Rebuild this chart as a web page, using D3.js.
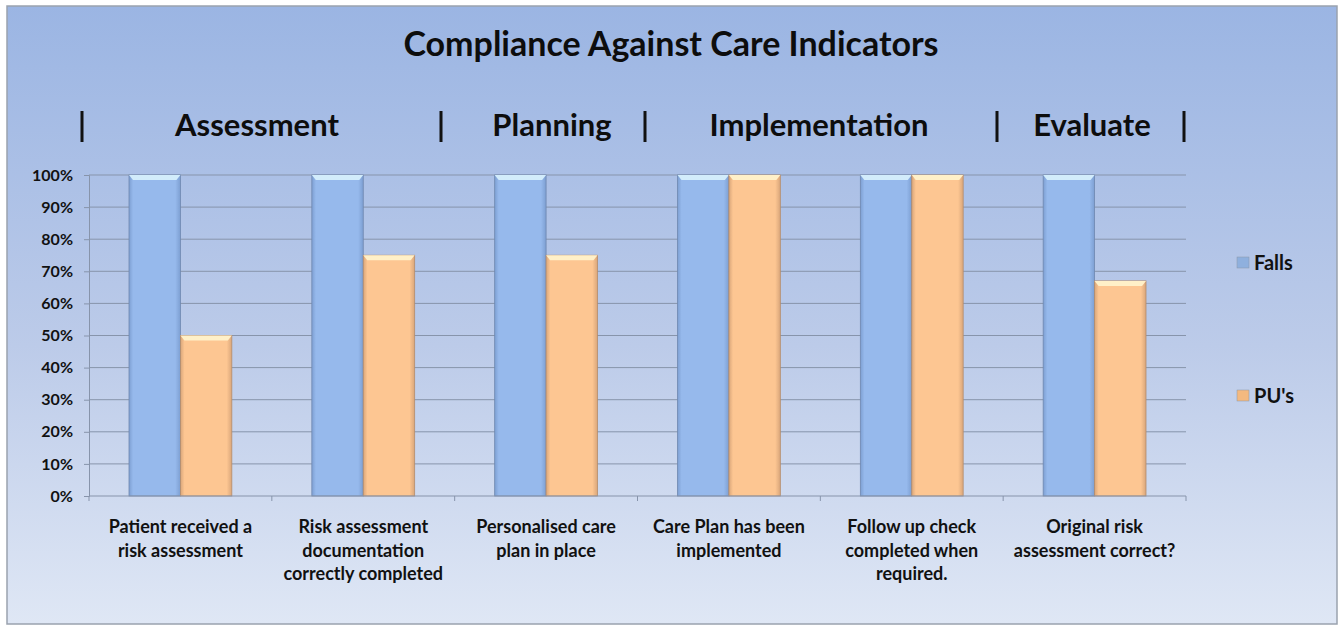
<!DOCTYPE html>
<html>
<head>
<meta charset="utf-8">
<script src="https://cdn.jsdelivr.net/npm/d3@7"></script>
<style>
  body { margin: 0; background: #fff; }
  svg { display: block; font-family: Lato, "Open Sans", sans-serif; }
</style>
</head>
<body>
<div id="chart"></div>
<script>
let W = 1340, H = 628;

// data
let categories = [
  ["Patient received a", "risk assessment"],
  ["Risk assessment", "documentation", "correctly completed"],
  ["Personalised care", "plan in place"],
  ["Care Plan has been", "implemented"],
  ["Follow up check", "completed when", "required."],
  ["Original risk", "assessment correct?"]
];
let falls = [100, 100, 100, 100, 100, 100];
let pus = [50, 75, 75, 100, 100, 67];
let seriesNames = ["Falls", "PU's"];
let yTicks = [0, 10, 20, 30, 40, 50, 60, 70, 80, 90, 100];
let stages = ["Assessment", "Planning", "Implementation", "Evaluate"];
let stageX = [257, 552, 819, 1092];
let pipeX = [82, 441, 645, 997, 1184];

let plotL = 89, plotR = 1186, plotT = 175, plotB = 496;

let svg = d3.select("#chart").append("svg")
  .attr("width", W).attr("height", H);

let defs = svg.append("defs");
let bg = defs.append("linearGradient").attr("id", "bg")
  .attr("x1", 0).attr("y1", 0).attr("x2", 0).attr("y2", 1);
bg.append("stop").attr("offset", "0%").attr("stop-color", "#9bb5e3");
bg.append("stop").attr("offset", "55%").attr("stop-color", "#bccbe9");
bg.append("stop").attr("offset", "100%").attr("stop-color", "#dfe7f5");

//bar gradients (light in the middle, darker edges)
function barGrad(id, edge, mid) {
  let g = defs.append("linearGradient").attr("id", id)
    .attr("x1", 0).attr("y1", 0).attr("x2", 1).attr("y2", 0);
  g.append("stop").attr("offset", "0%").attr("stop-color", edge);
  g.append("stop").attr("offset", "8%").attr("stop-color", mid);
  g.append("stop").attr("offset", "90%").attr("stop-color", mid);
  g.append("stop").attr("offset", "100%").attr("stop-color", edge);
}
barGrad("gFalls", "#7d9fd2", "#96b9ec");
barGrad("gPus", "#d9a67a", "#fdc692");

svg.append("rect").attr("x", 7).attr("y", 6).attr("width", 1330).attr("height", 618)
  .attr("fill", "url(#bg)").attr("stroke", "#9aa2ae").attr("stroke-width", 1.5);

svg.append("text").attr("x", 671).attr("y", 56).attr("text-anchor", "middle")
  .attr("font-size", 34).attr("font-weight", "bold").attr("fill", "#0d0d0d")
  .text("Compliance Against Care Indicators");

let stageG = svg.append("g").attr("font-weight", "bold").attr("font-size", 31).attr("fill", "#0d0d0d");
stageG.selectAll(".stage").data(stages).enter().append("text")
  .attr("x", (d, i) => stageX[i]).attr("y", 136).attr("text-anchor", "middle")
  .text(d => d);
stageG.selectAll(".pipe").data(pipeX).enter().append("rect")
  .attr("x", d => d - 1.5).attr("y", 111).attr("width", 3).attr("height", 31)
  .attr("fill", "#111");

let y = d3.scaleLinear().domain([0, 100]).range([plotB, plotT]);
let x0 = d3.scaleBand().domain(d3.range(categories.length)).range([plotL, plotR]).paddingInner(0).paddingOuter(0);
let x1 = d3.scaleBand().domain([0, 1]).range([40, x0.bandwidth() - 40]);

//gridlines
svg.append("g").selectAll("line").data(yTicks.slice(1)).enter().append("line")
  .attr("x1", plotL).attr("x2", plotR).attr("y1", d => y(d)).attr("y2", d => y(d))
  .attr("stroke", "#8794ab").attr("stroke-width", 1);

let yAxis = svg.append("g").attr("transform", "translate(" + plotL + ",0)")
  .call(d3.axisLeft(y).tickValues(yTicks).tickFormat(d => d + "%").tickSize(5).tickPadding(11));
yAxis.select(".domain").attr("stroke", "#8794ab");
yAxis.selectAll(".tick line").attr("stroke", "#8794ab");
yAxis.selectAll("text").attr("font-size", 16).attr("font-weight", "bold")
  .attr("fill", "#111").attr("font-family", "Lato, sans-serif");

//bars
let vals = [falls, pus];
let fills = ["url(#gFalls)", "url(#gPus)"];
let tops = ["#d2ecfb", "#fff0c8"];
let groups = svg.append("g").selectAll("g").data(categories).enter().append("g")
  .attr("transform", (d, i) => "translate(" + x0(i) + ",0)");
[0, 1].forEach(function(s) {
  groups.append("rect")
    .attr("x", x1(s)).attr("width", x1.bandwidth())
    .attr("y", (d, i) => y(vals[s][i])).attr("height", (d, i) => plotB - y(vals[s][i]))
    .attr("fill", fills[s]).attr("stroke", s === 0 ? "#6f88b0" : "#b58d6c").attr("stroke-width", 0.8);
  //bevel on top
  groups.append("path")
    .attr("d", function(d, i) {
      let bx = x1(s), bw = x1.bandwidth(), by = y(vals[s][i]);
      return "M" + bx + "," + by + "L" + (bx + bw) + "," + by + "L" + (bx + bw - 4) + "," + (by + 5) +
        "L" + (bx + 4) + "," + (by + 5) + "Z";
    })
    .attr("fill", tops[s]);
});

//x axis
svg.append("line").attr("x1", plotL).attr("x2", plotR).attr("y1", plotB).attr("y2", plotB)
  .attr("stroke", "#8794ab");
svg.append("g").selectAll("line").data(d3.range(categories.length + 1)).enter().append("line")
  .attr("x1", d => plotL + d * x0.bandwidth()).attr("x2", d => plotL + d * x0.bandwidth())
  .attr("y1", plotB).attr("y2", plotB + 5).attr("stroke", "#8794ab");

let lab = svg.append("g").selectAll("text").data(categories).enter().append("text")
  .attr("x", (d, i) => x0(i) + x0.bandwidth() / 2).attr("y", 533)
  .attr("text-anchor", "middle").attr("font-size", 18).attr("font-weight", "bold").attr("fill", "#111");
lab.selectAll("tspan").data(d => d).enter().append("tspan")
  .attr("x", function() { return d3.select(this.parentNode).attr("x"); })
  .attr("dy", (d, i) => i === 0 ? 0 : 23.5)
  .text(d => d);

//legend
let legY = [263, 396];
let legCol = ["#8fb0de", "#f4b97f"];
let leg = svg.append("g").selectAll("g").data(seriesNames).enter().append("g")
  .attr("transform", (d, i) => "translate(1243," + legY[i] + ")");
leg.append("rect").attr("x", -6).attr("y", -6).attr("width", 12).attr("height", 11)
  .attr("fill", (d, i) => legCol[i]).attr("stroke", "#8a97a8").attr("stroke-width", 0.5);
leg.append("text").attr("x", 11).attr("y", 7).attr("font-size", 20).attr("font-weight", "bold")
  .attr("fill", "#111").text(d => d);
</script>
</body>
</html>
